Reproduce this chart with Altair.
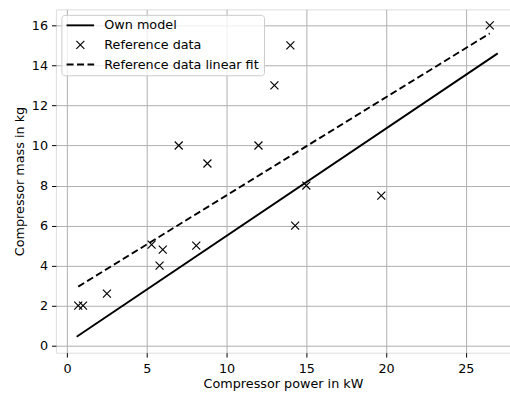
import altair as alt
import pandas as pd

# Reference data (scatter)
ref_x = [0.7, 1.0, 2.5, 5.3, 5.8, 6.0, 7.0, 8.1, 8.8, 12.0, 13.0, 14.0, 14.3, 15.0, 19.7, 26.5]
ref_y = [2.0, 2.0, 2.6, 5.05, 4.0, 4.8, 10.0, 5.0, 9.1, 10.0, 13.0, 15.0, 6.0, 8.0, 7.5, 16.0]
# Own model line
model_x = [0.6, 27.0]
model_y = [0.45, 14.6]
# Reference data linear fit
fit_x = [0.7, 26.5]
fit_y = [2.95, 15.6]

legend_labels = ["Own model", "Reference data", "Reference data linear fit"]
x_ticks = [0, 5, 10, 15, 20, 25]
y_ticks = [0, 2, 4, 6, 8, 10, 12, 14, 16]

FONT = "DejaVu Sans"
FS = 12.8
XMARK = "M-1,-1L1,1M-1,1L1,-1"

ref_df = pd.DataFrame({"x": ref_x, "y": ref_y})
model_df = pd.DataFrame({"x": model_x, "y": model_y})
fit_df = pd.DataFrame({"x": fit_x, "y": fit_y})

xs = alt.Scale(domain=[-0.7, 27.77], nice=False, zero=False)
ys = alt.Scale(domain=[-0.35, 16.8], nice=False, zero=False)

xax = alt.Axis(values=x_ticks, format="d", title="Compressor power in kW", grid=True,
               gridColor="#b0b0b0", gridWidth=1, domain=False, tickColor="#000",
               tickSize=4.4, labelPadding=5, labelFont=FONT, labelFontSize=FS,
               labelColor="#000", titleFont=FONT, titleFontSize=FS, titleFontWeight="normal",
               titleColor="#000", titlePadding=3)
yax = alt.Axis(values=y_ticks, format="d", title="Compressor mass in kg", grid=True,
               gridColor="#b0b0b0", gridWidth=1, domain=False, tickColor="#000",
               tickSize=4.4, labelPadding=4, labelFont=FONT, labelFontSize=FS,
               labelColor="#000", titleFont=FONT, titleFontSize=FS, titleFontWeight="normal",
               titleColor="#000", titlePadding=5)

model = alt.Chart(model_df).mark_line(color="black", strokeWidth=1.9).encode(
    x=alt.X("x:Q", scale=xs, axis=xax), y=alt.Y("y:Q", scale=ys, axis=yax))
fit = alt.Chart(fit_df).mark_line(color="black", strokeWidth=1.9, strokeDash=[7, 3.5]).encode(
    x=alt.X("x:Q", scale=xs), y=alt.Y("y:Q", scale=ys))
ref = alt.Chart(ref_df).mark_point(shape=XMARK, filled=False, color="black",
                                   size=64, strokeWidth=1.15, opacity=1).encode(
    x=alt.X("x:Q", scale=xs), y=alt.Y("y:Q", scale=ys))

# Legend (manual)
leg_box = alt.Chart(pd.DataFrame({"a": [0]})).mark_rect(
    fill="white", fillOpacity=0.8, stroke="#cccccc", strokeWidth=1, cornerRadius=3).encode(
    x=alt.value(6), x2=alt.value(209), y=alt.value(6), y2=alt.value(66.5))
leg_l1 = alt.Chart(pd.DataFrame({"a": [0]})).mark_rule(color="black", strokeWidth=1.9).encode(
    x=alt.value(10.7), x2=alt.value(38.3), y=alt.value(16))
leg_pt = alt.Chart(pd.DataFrame({"a": [0]})).mark_point(
    shape=XMARK, filled=False, color="black", size=64, strokeWidth=1.15, opacity=1).encode(
    x=alt.value(24.5), y=alt.value(35.5))
leg_l3 = alt.Chart(pd.DataFrame({"a": [0]})).mark_rule(
    color="black", strokeWidth=1.9, strokeDash=[7, 3.5]).encode(
    x=alt.value(10.7), x2=alt.value(38.3), y=alt.value(55.3))
leg_text = alt.Chart(pd.DataFrame({"label": legend_labels, "yy": [16, 35.5, 55.3]})).mark_text(
    align="left", baseline="middle", font=FONT, fontSize=FS, color="black").encode(
    x=alt.value(48.5), y=alt.Y("yy:Q", scale=None), text="label:N")

chart = alt.layer(model, fit, ref, leg_box, leg_l1, leg_pt, leg_l3, leg_text).properties(
    width=455, height=344,
    autosize=alt.AutoSizeParams(type="none"),
    padding={"left": 56, "top": 9, "right": 0, "bottom": 43},
).configure_view(stroke="#222", strokeWidth=1).configure(background="white")

chart.save("out.html", embed_options={"renderer": "svg", "actions": False})
